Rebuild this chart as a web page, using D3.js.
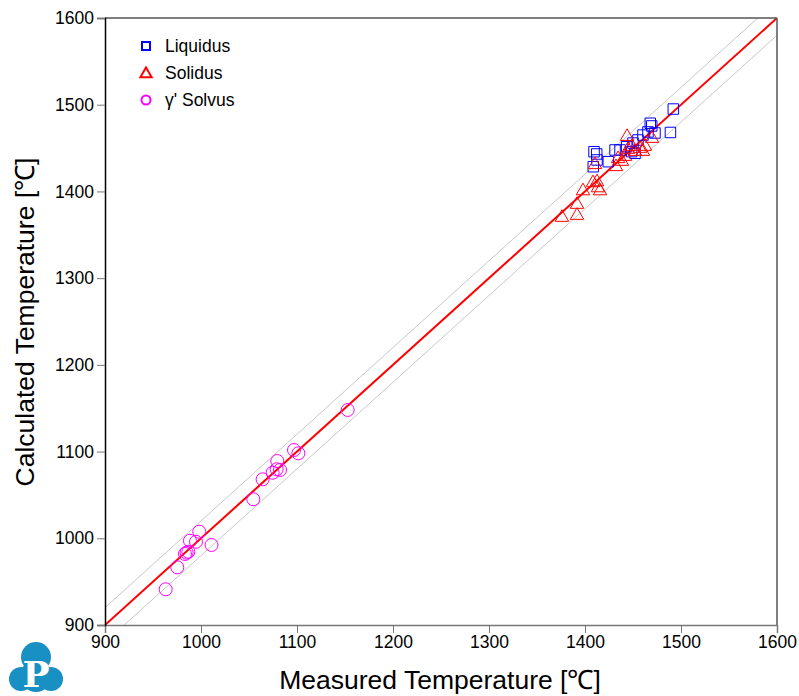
<!DOCTYPE html>
<html><head><meta charset="utf-8">
<script src="https://cdn.jsdelivr.net/npm/d3@7"></script>
<style>body{margin:0;background:#fff;} svg{display:block;font-family:"Liberation Sans",Arial,sans-serif;}</style>
</head><body><svg id="c" width="799" height="696"></svg>
<script>
const xTicks = [900,1000,1100,1200,1300,1400,1500,1600];
const yTicks = [900,1000,1100,1200,1300,1400,1500,1600];
const bandOffset = 20;
const legendLabels = ["Liquidus","Solidus","\u03b3' Solvus"];
const liquidusMeasured = [1492,1489,1468,1469.5,1465.6,1460.4,1472.9,1455.2,1450,1409.4,1412.2,1408.6,1412.5,1424.3,1431.3,1436.5,1443.4,1448.6,1452.1];
const liquidusCalculated = [1495,1468,1478.6,1475.5,1468.6,1465,1467.4,1459.3,1455.8,1445.8,1443.2,1428.5,1436.3,1434.3,1447.8,1447.8,1451.6,1445.9,1444];
const solidusMeasured = [1376,1391.7,1391.7,1397.9,1408.3,1412.5,1413.5,1415.6,1410.4,1432.3,1434.4,1438.5,1441.7,1444.8,1443.8,1449,1452,1457.3,1460.4,1462.5,1469.8];
const solidusCalculated = [1371.7,1386.7,1374,1402.3,1411.6,1412.7,1405.8,1402.3,1432.5,1430.2,1439.4,1436.3,1442,1450.1,1465,1453.6,1447.8,1451.3,1447.8,1453.6,1462.8];
const solvusMeasured = [963.2,975.3,983.3,985,986.8,988.5,994.8,998.2,1011,1054.5,1064.2,1074.6,1079.5,1078.8,1082.3,1096.9,1101.4,1152.8];
const solvusCalculated = [941.2,966.5,981.9,983.4,984.5,997.2,996,1007.6,992.3,1045,1068,1075.6,1089.1,1079.6,1078.8,1101.8,1098,1148];

const svg = d3.select("#c");
const L=105,R=777,T=18,B=625;
const x = d3.scaleLinear().domain([900,1600]).range([L,R]);
const y = d3.scaleLinear().domain([900,1600]).range([B,T]);

svg.append("clipPath").attr("id","clip").append("rect").attr("x",L).attr("y",T).attr("width",R-L).attr("height",B-T);
const plot = svg.append("g").attr("clip-path","url(#clip)");

[bandOffset,-bandOffset].forEach(o=>{
  plot.append("line").attr("x1",x(900)).attr("y1",y(900+o)).attr("x2",x(1600)).attr("y2",y(1600+o))
   .attr("stroke","#c8c8c8").attr("stroke-width",1);
});
plot.append("line").attr("x1",x(900)).attr("y1",y(900)).attr("x2",x(1600)).attr("y2",y(1600))
  .attr("stroke","#ff0000").attr("stroke-width",2);

const liq = liquidusMeasured.map((v,i)=>[v,liquidusCalculated[i]]);
const sol = solidusMeasured.map((v,i)=>[v,solidusCalculated[i]]);
const slv = solvusMeasured.map((v,i)=>[v,solvusCalculated[i]]);

const sq = d3.symbol().type(d3.symbolSquare).size(110);
const tri = d3.symbol().type(d3.symbolTriangle).size(78);
plot.selectAll(".sv").data(slv).join("circle").attr("cx",d=>x(d[0])).attr("cy",d=>y(d[1])).attr("r",6.5)
  .attr("fill","none").attr("stroke","#ff00ff").attr("stroke-width",1);
plot.selectAll(".lq").data(liq).join("path").attr("d",sq).attr("transform",d=>`translate(${x(d[0])},${y(d[1])})`)
  .attr("fill","none").attr("stroke","#0000ff").attr("stroke-width",1);
plot.selectAll(".sl").data(sol).join("path").attr("d",tri).attr("transform",d=>`translate(${x(d[0])},${y(d[1])+1.5})`)
  .attr("fill","none").attr("stroke","#ff0000").attr("stroke-width",1);

svg.append("line").attr("x1",L).attr("x2",R).attr("y1",T).attr("y2",T).attr("stroke","#555").attr("stroke-width",1.5);
svg.append("line").attr("x1",R).attr("x2",R).attr("y1",T).attr("y2",B).attr("stroke","#555").attr("stroke-width",1.5);

const xa = svg.append("g").attr("transform",`translate(0,${B})`)
  .call(d3.axisBottom(x).tickValues(xTicks).tickSize(8).tickPadding(3).tickFormat(d3.format("d")));
xa.select(".domain").attr("stroke","#777").attr("stroke-width",1.5);
xa.selectAll(".tick line").attr("stroke","#777");
xa.selectAll("text").attr("font-size",17.5).attr("fill","#000").attr("font-family","Liberation Sans, Arial, sans-serif");

const ya = svg.append("g").attr("transform",`translate(${L},0)`)
  .call(d3.axisLeft(y).tickValues(yTicks).tickSize(8).tickPadding(3).tickFormat(d3.format("d")));
ya.select(".domain").attr("stroke","#000").attr("stroke-width",1.5);
ya.selectAll(".tick line").attr("stroke","#777");
ya.selectAll("text").attr("font-size",17.5).attr("fill","#000").attr("font-family","Liberation Sans, Arial, sans-serif");

svg.append("text").attr("x",440).attr("y",689).attr("text-anchor","middle").attr("font-size",26.5).attr("fill","#000")
  .text("Measured Temperature [\u2103]");
svg.append("text").attr("transform","translate(34,322) rotate(-90)").attr("text-anchor","middle").attr("font-size",26.5).attr("fill","#000")
  .text("Calculated Temperature [\u2103]");

const lg = svg.append("g");
const lgY=[46,73,100];
lg.append("rect").attr("x",142).attr("y",lgY[0]-4).attr("width",8).attr("height",8).attr("fill","none").attr("stroke","#0000ff").attr("stroke-width",2);
lg.append("path").attr("d",d3.symbol().type(d3.symbolTriangle).size(55)).attr("transform",`translate(146,${lgY[1]+1})`).attr("fill","none").attr("stroke","#ff0000").attr("stroke-width",2);
lg.append("circle").attr("cx",146).attr("cy",lgY[2]).attr("r",4.5).attr("fill","none").attr("stroke","#ff00ff").attr("stroke-width",2);
legendLabels.forEach((t,i)=>{
  lg.append("text").attr("x",165).attr("y",lgY[i]+6).attr("font-size",17.5).attr("fill","#000").text(t);
});

const lo = svg.append("g").attr("fill","#1990c3");
lo.append("circle").attr("cx",36).attr("cy",657).attr("r",15);
lo.append("circle").attr("cx",21).attr("cy",679).attr("r",12);
lo.append("circle").attr("cx",51).attr("cy",679).attr("r",12);
lo.append("circle").attr("cx",36).attr("cy",676).attr("r",16);
svg.append("text").attr("x",36).attr("y",687).attr("text-anchor","middle").attr("font-family","DejaVu Serif, serif")
  .attr("font-weight","bold").attr("font-size",36).attr("fill","#fff").text("P");
</script></body></html>
